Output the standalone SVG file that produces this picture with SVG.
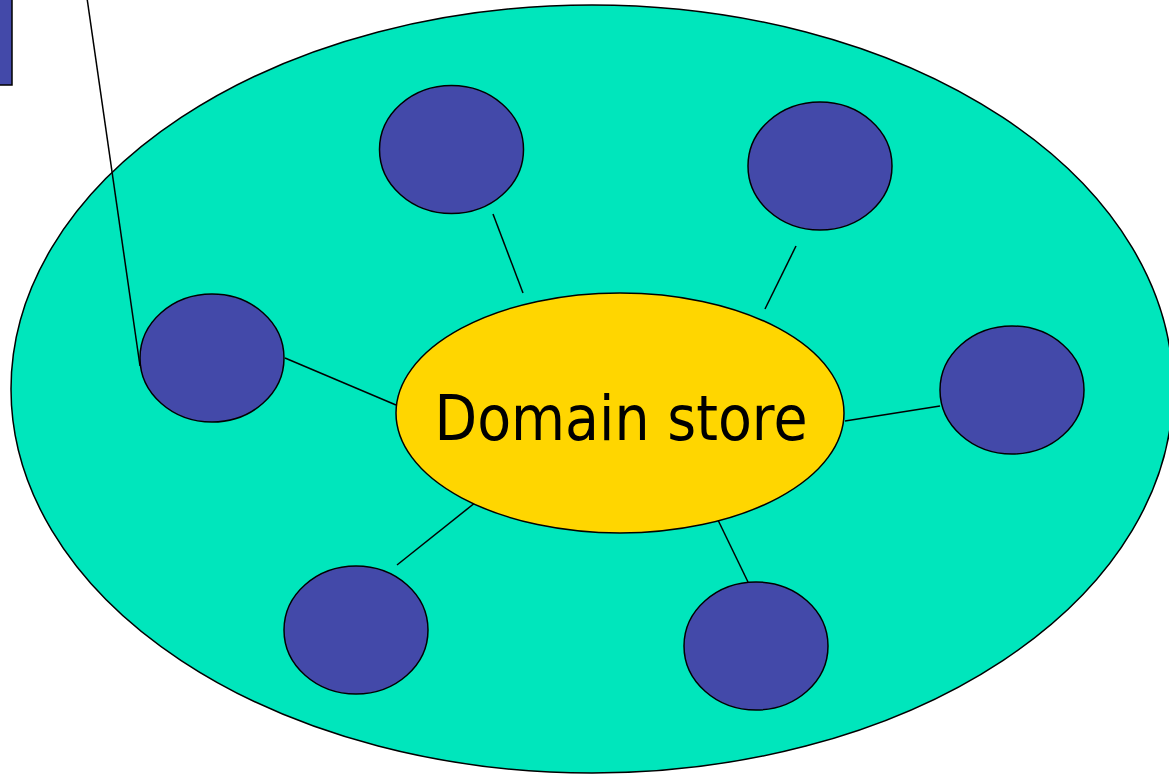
<svg xmlns="http://www.w3.org/2000/svg" width="1169" height="774" viewBox="0 0 1169 774">
  <style>
    .outline { stroke: #000; stroke-width: 1.5; }
    .agent { fill: #4349A9; stroke: #000; stroke-width: 1.5; }
    .link { stroke: #000; stroke-width: 1.5; fill: none; }
    .label { font-family: "DejaVu Sans", Tahoma, sans-serif; font-size: 62px; fill: #000; }
  </style>
  <rect width="1169" height="774" fill="#fff"/>

  <!-- partially visible block at the top-left corner -->
  <g id="corner-block">
    <rect x="-10" y="-10" width="22" height="95" class="agent"/>
  </g>

  <!-- enclosing region -->
  <g id="region">
    <ellipse cx="592" cy="389" rx="581" ry="384" fill="#00E6BC" class="outline"/>
  </g>

  <g id="connectors">
    <line x1="87" y1="-2" x2="140" y2="366" class="link"/>
    <line x1="493" y1="214" x2="523" y2="293" class="link"/>
    <line x1="796" y1="246" x2="765" y2="309" class="link"/>
    <line x1="285" y1="358" x2="396" y2="405" class="link"/>
    <line x1="845" y1="421" x2="940" y2="406" class="link"/>
    <line x1="397" y1="565" x2="476" y2="502" class="link"/>
    <line x1="717" y1="518" x2="748" y2="582" class="link"/>
  </g>

  <g id="domain-store">
    <ellipse cx="620" cy="413" rx="224" ry="120" fill="#FFD600" class="outline"/>
    <text x="621" y="440" text-anchor="middle" class="label" textLength="373" lengthAdjust="spacingAndGlyphs">Domain store</text>
  </g>

  <g id="node-top-left"><ellipse cx="451.5" cy="149.5" rx="72" ry="64" class="agent"/></g>
  <g id="node-top-right"><ellipse cx="820" cy="166" rx="72" ry="64" class="agent"/></g>
  <g id="node-left"><ellipse cx="212" cy="358" rx="72" ry="64" class="agent"/></g>
  <g id="node-right"><ellipse cx="1012" cy="390" rx="72" ry="64" class="agent"/></g>
  <g id="node-bottom-left"><ellipse cx="356" cy="630" rx="72" ry="64" class="agent"/></g>
  <g id="node-bottom-right"><ellipse cx="756" cy="646" rx="72" ry="64" class="agent"/></g>
</svg>
